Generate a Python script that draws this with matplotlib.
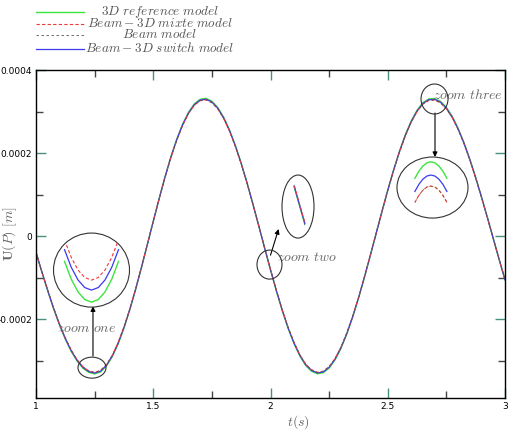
import numpy as np
import matplotlib
matplotlib.use('Agg')
import matplotlib.pyplot as plt
from matplotlib.patches import Ellipse
from matplotlib.lines import Line2D

plt.rcParams['mathtext.fontset'] = 'cm'
plt.rcParams['font.family'] = 'DejaVu Sans'

# time grid (s) and displacement of the switch model (units of 1e-4 m)
t = np.linspace(1.0, 3.0, 81)
u_switch = [
    -0.393, -0.862, -1.311, -1.740, -2.126, -2.468, -2.759, -2.992, -3.162, -3.265,
    -3.300, -3.254, -3.116, -2.890, -2.584, -2.205, -1.765, -1.276, -0.747, -0.199,
    0.354, 0.897, 1.417, 1.897, 2.319, 2.677, 2.962, 3.166, 3.276, 3.297,
    3.230, 3.080, 2.849, 2.545, 2.174, 1.749, 1.278, 0.770, 0.245, -0.287,
    -0.810, -1.313, -1.783, -2.209, -2.571, -2.871, -3.099, -3.237, -3.298, -3.272,
    -3.161, -2.967, -2.695, -2.352, -1.949, -1.495, -1.000, -0.479, 0.053, 0.584,
    1.102, 1.588, 2.034, 2.427, 2.756, 3.014, 3.195, 3.284, 3.294, 3.225,
    3.081, 2.865, 2.582, 2.239, 1.843, 1.404, 0.934, 0.443, -0.060, -0.562,
    -1.051,
]
# relative amplitude of each model vs the switch model
amp_ref = 1.006
amp_mixte = 0.995
amp_beam = 0.995

# finer samples around the first minimum and the last maximum (for the zooms)
zoom1_t = [1.22, 1.2275, 1.235, 1.2425, 1.25, 1.2575, 1.265, 1.2725, 1.28]
zoom1_switch = [-3.2333, -3.2624, -3.2833, -3.2958, -3.3, -3.2958, -3.2833, -3.2624, -3.2333]
zoom3_t = [2.67, 2.675, 2.68, 2.685, 2.69, 2.695, 2.70, 2.705, 2.71]
zoom3_switch = [3.2754, 3.2861, 3.2938, 3.2985, 3.3, 3.2985, 3.2938, 3.2861, 3.2754]

labels = [r'$3D\ reference\ model$', r'$Beam - 3D\ mixte\ model$',
          r'$Beam\ model$', r'$Beam - 3D\ switch\ model$']

c_ref, c_mixte, c_beam, c_switch = '#3de43d', '#f03a3a', '#555555', '#3a3af0'
styles = [dict(color=c_ref, lw=1.0, ls='-'),
          dict(color=c_mixte, lw=0.8, ls=(0, (3, 2))),
          dict(color=c_beam, lw=0.6, ls=(0, (3, 3))),
          dict(color=c_switch, lw=0.9, ls='-')]

us = np.array(u_switch) * 1e-4
curves = [us * amp_ref, us * amp_mixte, us * amp_beam, us]

fig = plt.figure(figsize=(5.08, 4.34), dpi=100)
ax = fig.add_axes([36 / 508, 1 - 398 / 434, 469 / 508, 328 / 434])

# draw order: reference, switch, then the dashed ones on top
for i in [0, 3, 1, 2]:
    ax.plot(t, curves[i], **styles[i])

ax.set_xlim(1, 3)
ax.set_ylim(-0.00039, 0.0004)
ax.set_xticks([1, 1.5, 2, 2.5, 3])
ax.set_xticklabels(['1', '1.5', '2', '2.5', '3'])
ax.set_xticks([1.25, 1.75, 2.25, 2.75], minor=True)
ax.set_yticks([-0.0002, 0, 0.0002, 0.0004])
ax.set_yticklabels(['-0.0002', '0', '0.0002', '0.0004'])
ax.set_yticks([-0.0003, -0.0001, 0.0001, 0.0003], minor=True)
ax.tick_params(which='major', direction='in', top=True, right=True, length=7,
               width=1, color='#4a9080', labelsize=6.5, pad=3)
ax.tick_params(which='minor', direction='in', top=True, right=True, length=5,
               width=1, color='#444444')
for s in ax.spines.values():
    s.set_linewidth(1.0)

ax.set_ylabel(r'$\mathbf{U}(P)\ [m]$', fontsize=10, color='#666666')
ax.yaxis.set_label_coords(-0.036, 0.5)
ax.set_xlabel(r'$t(s)$', fontsize=10, color='#666666')
ax.xaxis.set_label_coords(0.559, -0.045)


def outline(x, y, w, h):
    ax.add_patch(Ellipse((x, y), w, h, fill=False, ec='#333333', lw=0.8, zorder=5))


def arrow(x0, y0, x1, y1):
    ax.annotate('', xy=(x1, y1), xytext=(x0, y0),
                arrowprops=dict(arrowstyle='-|>', color='black', lw=0.8,
                                mutation_scale=7, shrinkA=0, shrinkB=0))


def zoom_box(x, y, w, h, xlim, ylim, data, clip=1.0):
    ins = ax.inset_axes([x - w / 2, y - h / 2, w, h], transform=ax.transData)
    ins.set_axis_off()
    ins.set_xlim(*xlim)
    ins.set_ylim(*ylim)
    clip_patch = Ellipse((0.5, 0.5), clip, clip, transform=ins.transAxes)
    for tt, uu, st in data:
        ln, = ins.plot(tt, uu, **st)
        ln.set_clip_path(clip_patch)
    outline(x, y, w, h)


# zoom one
z1 = np.array(zoom1_switch) * 1e-4
outline(1.2388, -3.169e-4, 0.1194, 0.506e-4)
arrow(1.243, -2.89e-4, 1.243, -1.69e-4)
zoom_box(1.2367, -0.819e-4, 0.324, 1.783e-4, (1.2078, 1.2922), (-3.328e-4, -3.206e-4),
         [(zoom1_t, z1 * amp_ref, styles[0]),
          (zoom1_t, z1, styles[3]),
          (zoom1_t, z1 * amp_mixte, styles[1])])
ax.text(1.0896, -2.217e-4, r'$zoom\ one$', fontsize=10, color='#666666', va='center')

# zoom two
outline(1.9957, -0.687e-4, 0.1066, 0.699e-4)
arrow(2.0, -0.46e-4, 2.0346, 0.17e-4)
zoom_box(2.1173, 0.711e-4, 0.1365, 1.518e-4, (1.9792, 1.9984), (-0.714e-4, -0.488e-4),
         [(t, curves[0], styles[0]), (t, curves[3], styles[3]),
          (t, curves[1], styles[1])], clip=0.72)
ax.text(2.0277, -0.506e-4, r'$zoom\ two$', fontsize=10, color='#666666', va='center')

# zoom three
z3 = np.array(zoom3_switch) * 1e-4
outline(2.6994, 3.301e-4, 0.1151, 0.723e-4)
arrow(2.7015, 2.964e-4, 2.7015, 1.904e-4)
zoom_box(2.6908, 1.169e-4, 0.3028, 1.47e-4, (2.6476, 2.7364), (3.2355e-4, 3.327e-4),
         [(zoom3_t, z3 * amp_ref, styles[0]),
          (zoom3_t, z3, styles[3]),
          (zoom3_t, z3 * amp_mixte, styles[1]),
          (zoom3_t, z3 * amp_beam, dict(color='#8a5a2a', lw=0.6, ls=(1.5, (3, 3))))])
ax.text(2.693, 3.398e-4, r'$zoom\ three$', fontsize=10, color='#666666', va='center')

# legend above the axes
rows = [12, 23.5, 35, 48.5]
for y, st, lab in zip(rows, styles, labels):
    fy = 1 - y / 434
    fig.add_artist(Line2D([36 / 508, 84 / 508], [fy, fy], transform=fig.transFigure, **st))
    fig.text(160 / 508, fy, lab, ha='center', va='center', fontsize=9.5, color='#555555')

fig.savefig('out.png', dpi=100)
